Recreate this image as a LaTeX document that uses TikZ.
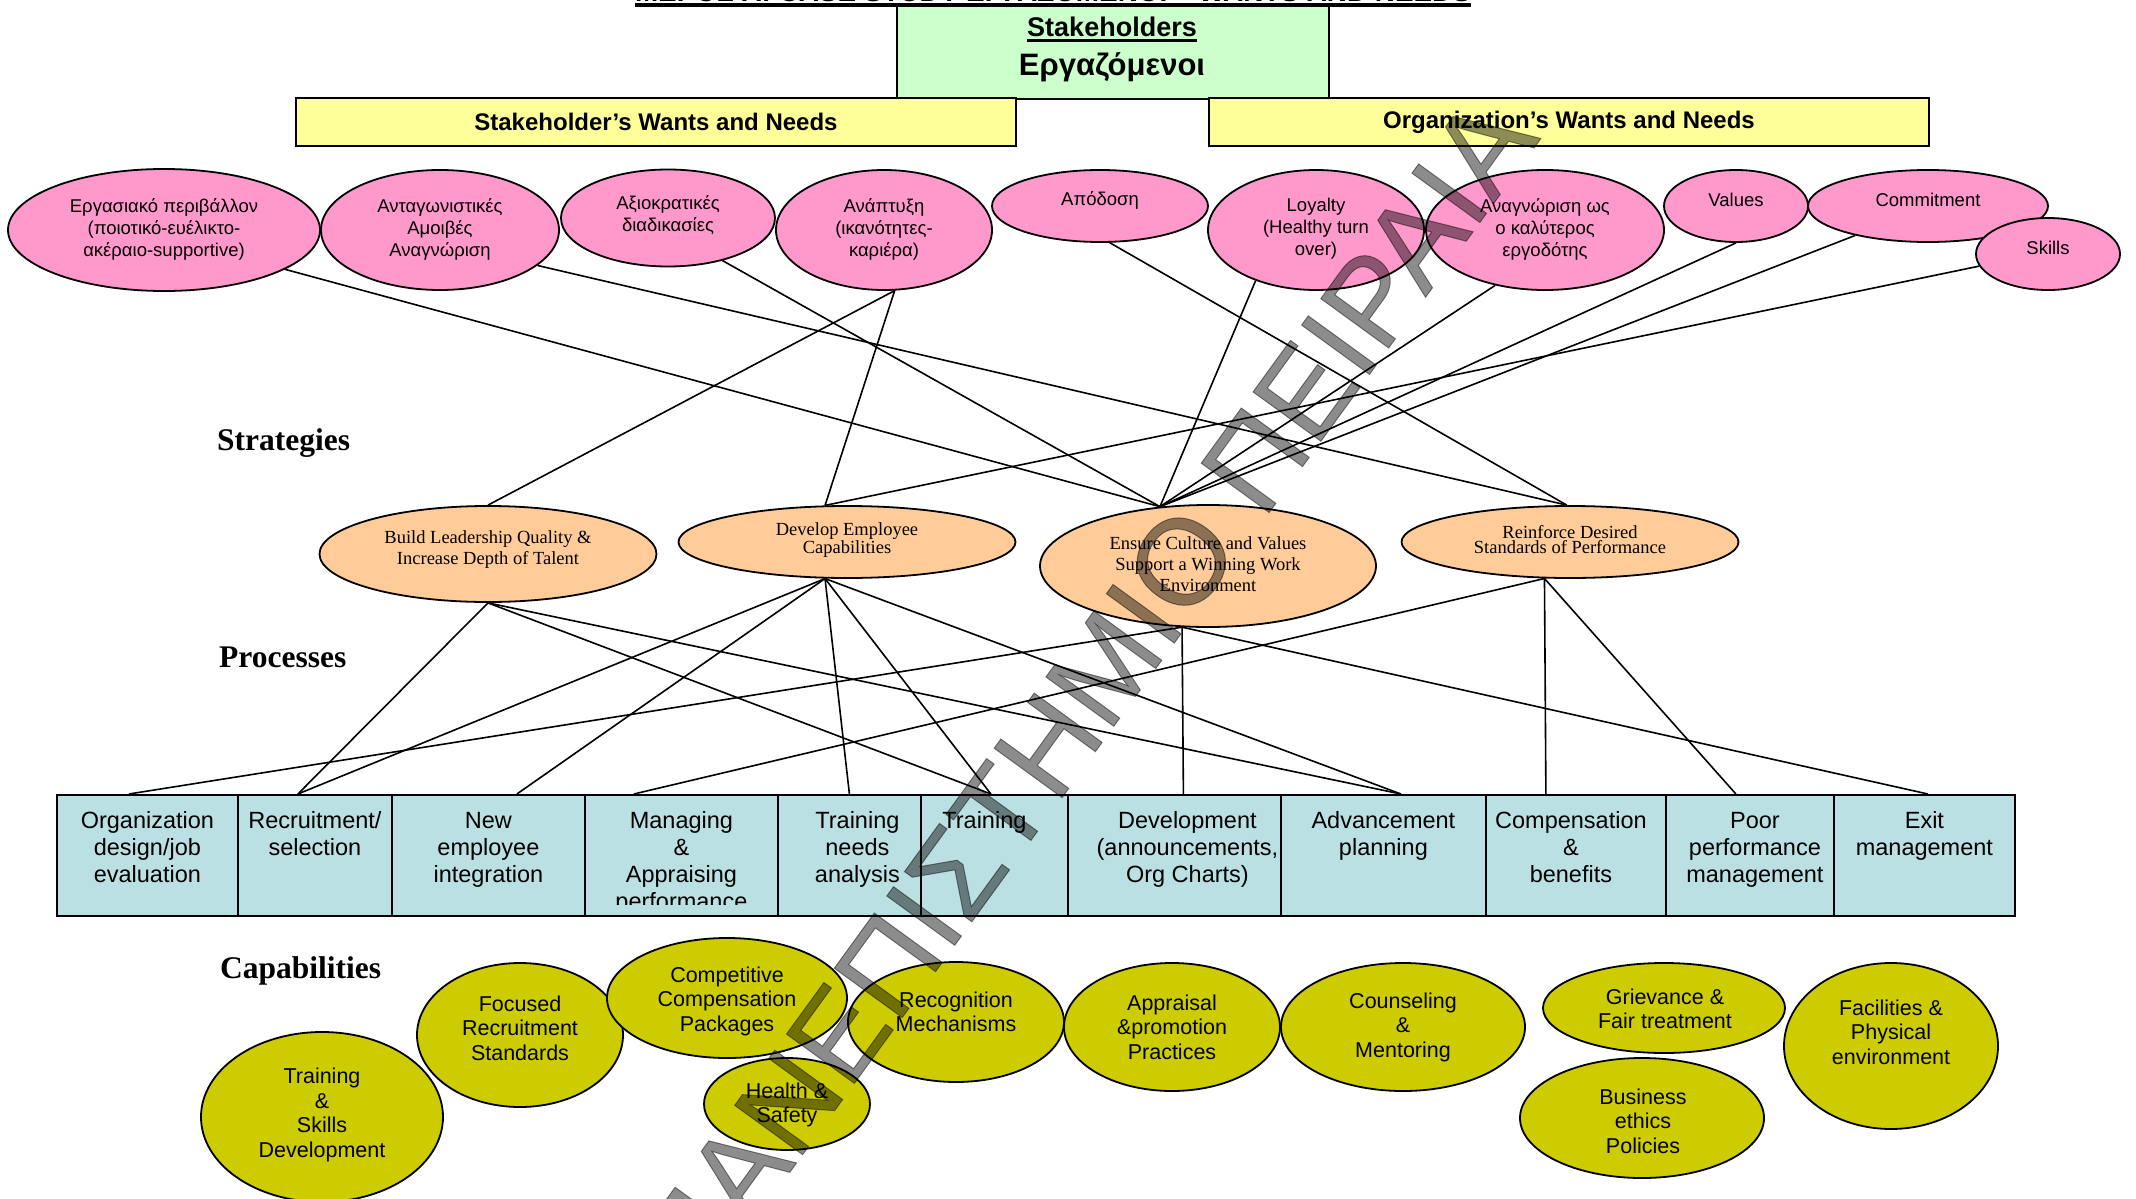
\documentclass[tikz,border=0pt]{standalone}
\usepackage{fontspec}
\usepackage{graphicx}
\setmainfont{Liberation Sans}
\newfontfamily\timesfam{Liberation Serif}
\newfontfamily\markfont[FakeBold=0.8]{Liberation Sans}
\usetikzlibrary{shapes.geometric,backgrounds}
\definecolor{wishpink}{HTML}{FF99CC}
\definecolor{stratorange}{HTML}{FFCC99}
\definecolor{capolive}{HTML}{CCCC00}
\definecolor{procblue}{HTML}{BBE0E3}
\definecolor{bandyellow}{HTML}{FFFF99}
\definecolor{stakegreen}{HTML}{CCFFCC}
\newcommand\fsz[2]{\fontsize{#1}{#2}\selectfont}

\begin{document}
\begin{tikzpicture}[x=1pt,y=-1pt,
  outline/.style={draw=black,line width=1.8pt},
  radii/.style 2 args={minimum width={2*#1}, minimum height={2*#2}},
  wish/.style={outline,ellipse,fill=wishpink,inner sep=0pt},
  strat/.style={outline,ellipse,fill=stratorange,inner sep=0pt},
  capab/.style={outline,ellipse,fill=capolive,inner sep=0pt},
  proc/.style={outline,rectangle,fill=procblue,inner sep=0pt,anchor=north west,minimum height=121pt},
  band/.style={outline,rectangle,fill=bandyellow,inner sep=0pt,minimum width=720pt,minimum height=48pt,font=\bfseries\fsz{24}{28}},
  wishtext/.style={align=center,inner sep=0pt,font=\fsz{18.5}{22}},
  strattext/.style={align=center,inner sep=0pt,font=\timesfam\fsz{18.5}{21}},
  tighttext/.style={align=center,inner sep=0pt,font=\timesfam\fsz{18.5}{15}},
  proctext/.style={align=center,inner sep=0pt,anchor=north,font=\fsz{23.5}{27}},
  captext/.style={align=center,inner sep=0pt,font=\fsz{21.5}{24.5}},
  tier/.style={anchor=base west,inner sep=0pt,font=\timesfam\bfseries\fsz{31.5}{36}},
  link/.style={draw=black,line width=1.6pt}
]
\useasboundingbox (0,0) rectangle (2136,1199);

% ---------- header ----------
\node[outline,fill=stakegreen,minimum width=432pt,minimum height=95pt,anchor=north west,inner sep=0pt] (stake) at (896,3) {};
\node[anchor=base,inner sep=0pt,font=\bfseries\fsz{27}{30}] (sh) at (1112,36.5) {Stakeholders};
\draw[line width=3pt] ([yshift=-4.5pt]sh.base west) -- ([yshift=-4.5pt]sh.base east);
\node[anchor=base,inner sep=0pt,font=\bfseries\fsz{31}{34}] (emp) at (1112,75) {Εργαζόμενοι};

\node[anchor=base,inner sep=0pt,font=\bfseries\fsz{30}{34}] (title) at (1053,1.5)
  {\resizebox{836pt}{!}{ΜΕΡΟΣ Α: CASE STUDY ΕΡΓΑΖΟΜΕΝΟΙ – WANTS AND NEEDS}};
\draw[line width=4pt] ([yshift=-3.5pt]title.base west) -- ([yshift=-3.5pt]title.base east);

\node[band] (swn) at (656,122) {Stakeholder’s Wants and Needs};
\node[band] (own) at (1569,122) {Organization’s Wants and Needs};

% ---------- wants and needs ----------
\node[wish,radii={156}{61}] (p1) at (164,230) {};
\node[wish,radii={119}{60}] (p2) at (440,230) {};
\node[wish,radii={107}{48.5}] (p3) at (668,218) {};
\node[wish,radii={108}{60}] (p4) at (884,230) {};
\node[wish,radii={108}{36}] (p5) at (1100,206) {};
\node[wish,radii={108}{60}] (p6) at (1316,230) {};
\node[wish,radii={119}{60}] (p7) at (1545,230) {};
\node[wish,radii={72}{36}] (p8) at (1736,206) {};
\node[wish,radii={120}{36}] (p9) at (1928,206) {};
\node[wish,radii={72}{36}] (p10) at (2048,254) {};

\node[wishtext] (p1t) at (164,229) {Εργασιακό περιβάλλον\\(ποιοτικό-ευέλικτο-\\ακέραιο-supportive)};
\node[wishtext] (p2t) at (440,229) {Ανταγωνιστικές\\Αμοιβές\\Αναγνώριση};
\node[wishtext] (p3t) at (668,215) {Αξιοκρατικές\\διαδικασίες};
\node[wishtext] (p4t) at (884,229) {Ανάπτυξη\\(ικανότητες-\\καριέρα)};
\node[wishtext] (p5t) at (1100,200) {Απόδοση};
\node[wishtext] (p6t) at (1316,229) {Loyalty\\(Healthy turn\\over)};
\node[wishtext] (p7t) at (1545,229) {Αναγνώριση ως\\ο καλύτερος\\εργοδότης};
\node[wishtext] (p8t) at (1736,200) {Values};
\node[wishtext] (p9t) at (1928,200) {Commitment};
\node[wishtext] (p10t) at (2048,248) {Skills};

% ---------- strategies ----------
\node[tier] (lstr) at (217,450) {Strategies};
\node[strat,radii={168.5}{48}] (s1) at (488,554) {};
\node[strat,radii={168.5}{36}] (s2) at (847,542) {};
\node[strat,radii={168}{61}] (s3) at (1208,566) {};
\node[strat,radii={168.5}{36}] (s4) at (1570,542) {};
\node[strattext] (s1t) at (488,550) {Build Leadership Quality \&\\Increase Depth of Talent};
\node[tighttext] (s2t) at (847,540) {Develop Employee\\Capabilities};
\node[strattext] (s3t) at (1208,564) {Ensure Culture and Values\\Support a Winning Work\\Environment};
\node[tighttext] (s4t) at (1570,540) {Reinforce Desired\\Standards of Performance};

% ---------- processes ----------
\node[tier] (lproc) at (219,667) {Processes};
\node[proc,minimum width=181pt] (b1) at (56,794) {};
\node[proc,minimum width=154pt] (b2) at (237,794) {};
\node[proc,minimum width=193pt] (b3) at (391,794) {};
\node[proc,minimum width=193pt] (b4) at (584,794) {};
\node[proc,minimum width=143pt] (b5) at (777,794) {};
\node[proc,minimum width=147pt] (b6) at (920,794) {};
\node[proc,minimum width=213pt] (b7) at (1067,794) {};
\node[proc,minimum width=205pt] (b8) at (1280,794) {};
\node[proc,minimum width=180pt] (b9) at (1485,794) {};
\node[proc,minimum width=168pt] (b10) at (1665,794) {};
\node[proc,minimum width=181pt] (b11) at (1833,794) {};

\node[proctext] (b1t) at ([yshift=-15pt]b1.north) {\strut Organization\\design/job\\evaluation};
\node[proctext] (b2t) at ([yshift=-15pt]b2.north) {\strut Recruitment/\\selection};
\node[proctext] (b3t) at ([yshift=-15pt]b3.north) {\strut New\\employee\\integration};
\begin{scope}
  \clip (b4.north west) rectangle ([yshift=12pt]b4.south east);
  \node[proctext] (b4t) at ([yshift=-15pt]b4.north) {\strut Managing\\\&\\Appraising\\performance};
\end{scope}
\node[proctext] (b5t) at ([xshift=8pt,yshift=-15pt]b5.north) {\strut Training\\needs\\analysis};
\node[proctext] (b6t) at ([xshift=-10pt,yshift=-15pt]b6.north) {\strut Training};
\node[proctext] (b7t) at ([xshift=13pt,yshift=-15pt]b7.north) {\strut Development\\(announcements,\\Org Charts)};
\node[proctext] (b8t) at ([yshift=-15pt]b8.north) {\strut Advancement\\planning};
\node[proctext] (b9t) at ([xshift=-5pt,yshift=-15pt]b9.north) {\strut Compensation\\\&\\benefits};
\node[proctext] (b10t) at ([xshift=5pt,yshift=-15pt]b10.north) {\strut Poor\\performance\\management};
\node[proctext] (b11t) at ([yshift=-15pt]b11.north) {\strut Exit\\management};

% ---------- capabilities ----------
\node[tier] (lcap) at (220,978) {Capabilities};
\node[capab,radii={121}{85}] (c1) at (322,1117) {};
\node[capab,radii={103}{72}] (c2) at (520,1035) {};
\node[capab,radii={120}{60}] (c3) at (727,998) {};
\node[capab,radii={83}{46}] (c4) at (787,1104) {};
\node[capab,radii={108}{60}] (c5) at (956,1022) {};
\node[capab,radii={108}{64}] (c6) at (1172,1027) {};
\node[capab,radii={122}{64}] (c7) at (1403,1027) {};
\node[capab,radii={121}{45}] (c8) at (1664,1008) {};
\node[capab,radii={122}{60}] (c9) at (1642,1118) {};
\node[capab,radii={107}{83}] (c10) at (1891,1046) {};

\node[captext] (c1t) at (322,1115) {Training\\\&\\Skills\\Development};
\node[captext] (c2t) at (520,1028) {Focused\\Recruitment\\Standards};
\node[captext] (c3t) at (727,1001) {Competitive\\Compensation\\Packages};
\node[captext] (c4t) at (787,1105) {Health \&\\Safety};
\node[captext] (c5t) at (956,1012) {Recognition\\Mechanisms};
\node[captext] (c6t) at (1172,1027) {Appraisal\\\&promotion\\Practices};
\node[captext] (c7t) at (1403,1027) {Counseling\\\&\\Mentoring};
\node[captext] (c8t) at (1665,1009) {Grievance \&\\Fair treatment};
\node[captext] (c9t) at (1643,1121) {Business\\ethics\\Policies};
\node[captext] (c10t) at (1891,1032) {Facilities \&\\Physical\\environment};

% ---------- connectors (behind the shapes) ----------
\begin{scope}[on background layer]
  \fill[white] (0,0) rectangle (2136,1199);
  % wants and needs to strategies
  \draw[link] (p1.-18) -- (s3.129);
  \draw[link] (p2.-20) -- (s4.95);
  \draw[link] (p3.-38) -- (s3.129);
  \draw[link] (p4.-80) -- (s1.north);
  \draw[link] (p4.-80) -- (s2.121);
  \draw[link] (p5.-75) -- (s4.95);
  \draw[link] (p6.220) -- (s3.129);
  \draw[link] (p7.228) -- (s3.129);
  \draw[link] (p8.south) -- (s3.129);
  \draw[link] (p9.202) -- (s3.129);
  \draw[link] (p10.190) -- (s2.121);
  % strategies to processes
  \draw[link] (s1.south) -- ([xshift=-17pt]b2.north);
  \draw[link] (s1.south) -- ([xshift=-3.5pt]b6.north);
  \draw[link] (s1.south) -- ([xshift=17.5pt]b8.north);
  \draw[link] (s2.239) -- ([xshift=-17pt]b2.north);
  \draw[link] (s2.239) -- ([xshift=28.5pt]b3.north);
  \draw[link] (s2.239) -- (b5.north);
  \draw[link] (s2.239) -- ([xshift=-3.5pt]b6.north);
  \draw[link] (s2.239) -- ([xshift=17.5pt]b8.north);
  \draw[link] (s3.247) -- ([xshift=-18.5pt]b1.north);
  \draw[link] (s3.247) -- ([xshift=9pt]b7.north);
  \draw[link] (s3.247) -- ([xshift=3.5pt]b11.north);
  \draw[link] (s4.235) -- ([xshift=-47.5pt]b4.north);
  \draw[link] (s4.235) -- ([xshift=-30pt]b9.north);
  \draw[link] (s4.235) -- ([xshift=-14pt]b10.north);
\end{scope}

% ---------- watermark ----------
\node[anchor=base west,rotate=54,inner sep=0pt,font=\markfont\fsz{122}{126},text=black,text opacity=0.45] (wm) at (697,1300) {ΠΑΝΕΠΙΣΤΗΜΙΟ ΠΕΙΡΑΙΑ};
\end{tikzpicture}
\end{document}
